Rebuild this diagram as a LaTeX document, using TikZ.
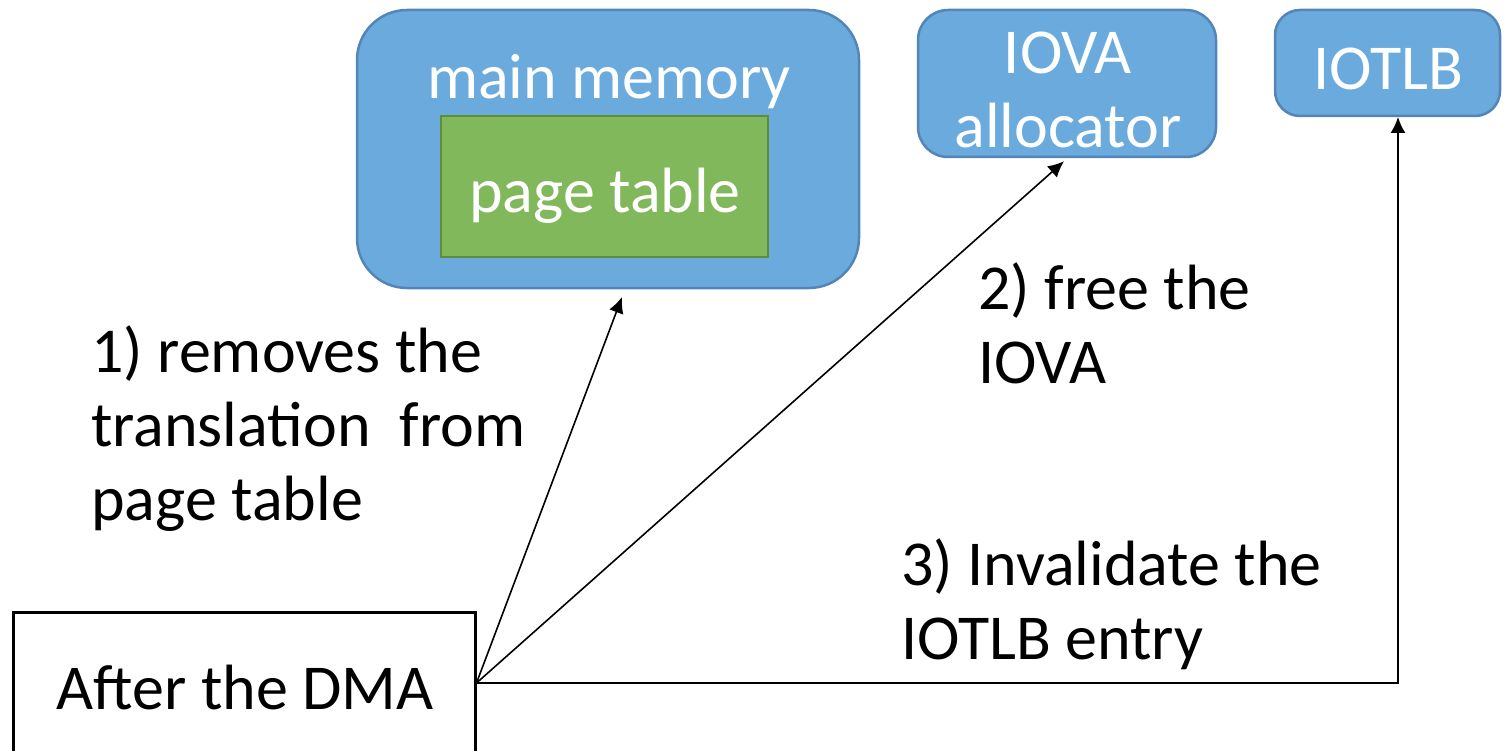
\documentclass[tikz,border=0pt]{standalone}
\usepackage{fontspec}
\setmainfont{Carlito}
\usetikzlibrary{arrows.meta,calc}
\definecolor{boxblue}{HTML}{6BAADC}
\definecolor{boxblueline}{HTML}{5385B9}
\definecolor{tablegreen}{HTML}{82B85C}
\definecolor{tablegreenline}{HTML}{5F8D3D}
\begin{document}
\begin{tikzpicture}[x=1pt,y=-1pt,
  bigtext/.style={font=\fontsize{64}{74}\selectfont},
  unit/.style={draw=boxblueline, fill=boxblue, line width=2.5pt, inner sep=0pt},
  whitetext/.style={bigtext, text=white, inner sep=0pt, anchor=base},
  note/.style={bigtext, inner sep=0pt, anchor=base west},
  flow/.style={line width=1.6pt, -{Latex[length=16pt,width=15pt]}},
]
\useasboundingbox (0,0) rectangle (1506,751);
\clip (0,0) rectangle (1506,751);

% main memory with its page table
\node[unit, rounded corners=50pt, minimum width=502pt, minimum height=278pt] (mem) at (608,149) {};
\node[whitetext] (memname) at (609,99) {main memory};
\node[draw=tablegreenline, fill=tablegreen, line width=2.5pt, inner sep=0pt,
      minimum width=327pt, minimum height=141pt] (ptab) at (604.5,186.5) {};
\node[whitetext] (ptabname) at (605,213) {page table};

% IOVA allocator
\node[unit, rounded corners=30pt, minimum width=298pt, minimum height=147pt] (iova) at (1067,83.5) {};
\node[whitetext] (iovaname) at (1068,74) {\begin{tabular}[t]{@{}c@{}}IOVA\\allocator\end{tabular}};

% IOTLB
\node[unit, rounded corners=25pt, minimum width=225pt, minimum height=106pt] (tlb) at (1387.5,63) {};
\node[whitetext] (tlbname) at (1388,90) {IOTLB};

% starting point
\node[draw=black, line width=3pt, inner sep=0pt, minimum width=462pt, minimum height=142pt] (dma) at (244,683) {};
\node[bigtext, anchor=base, inner sep=0pt] (dmaname) at (245,709) {After the DMA};

% step descriptions
\node[note] (step1) at (91,372) {\begin{tabular}[t]{@{}l@{}}1) removes the\\translation~ from\\page table\end{tabular}};
\node[note] (step2) at (978,309) {\begin{tabular}[t]{@{}l@{}}2) free the\\IOVA\end{tabular}};
\node[note] (step3) at (901,585) {\begin{tabular}[t]{@{}l@{}}3) Invalidate the\\IOTLB entry\end{tabular}};

% connectors
\coordinate (memin) at (622,297);
\coordinate (tlbin) at (1398,117);
\draw[flow] (dma.east) -- (memin);
\draw[flow] (dma.east) -- ($(iova.south)+(-3,3)$);
\draw[flow] (dma.east) -| (tlbin);
\end{tikzpicture}
\end{document}
